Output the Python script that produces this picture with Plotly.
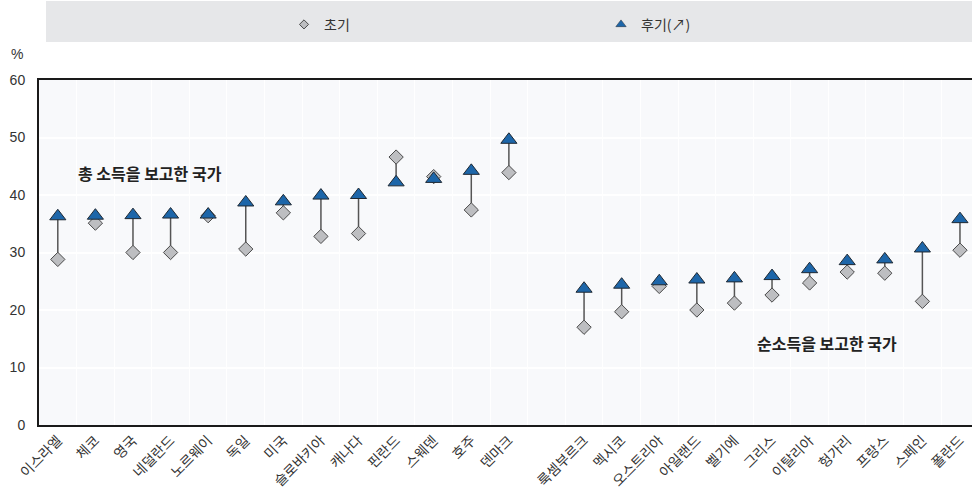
import plotly.graph_objects as go

# Countries reporting gross income
gross_countries = ["이스라엘", "체코", "영국", "네덜란드", "노르웨이", "독일", "미국",
                   "슬로바키아", "캐나다", "핀란드", "스웨덴", "호주", "덴마크"]
gross_early = [28.8, 35.1, 30.0, 30.0, 36.4, 30.6, 36.9, 32.8, 33.3, 46.6, 43.2, 37.4, 43.9]
gross_late = [36.3, 36.4, 36.5, 36.6, 36.6, 38.7, 38.9, 39.9, 40.0, 42.2, 42.8, 44.2, 49.6]

# Countries reporting net income
net_countries = ["룩셈부르크", "멕시코", "오스트리아", "아일랜드", "벨기에", "그리스",
                 "이탈리아", "헝가리", "프랑스", "스페인", "폴란드"]
net_early = [17.0, 19.7, 24.1, 20.0, 21.2, 22.6, 24.7, 26.6, 26.4, 21.5, 30.4]
net_late = [23.7, 24.4, 25.0, 25.3, 25.5, 25.9, 27.1, 28.5, 28.8, 30.7, 35.8]

y_ticks = [0, 10, 20, 30, 40, 50, 60]

# one empty slot separates the two country groups
gap = 1
x_gross = list(range(len(gross_countries)))
x_net = [len(gross_countries) + gap + i for i in range(len(net_countries))]
xs = x_gross + x_net
labels = gross_countries + net_countries
early = gross_early + net_early
late = gross_late + net_late
n_slots = len(gross_countries) + gap + len(net_countries)

DIAMOND_FILL = "#bdbec1"
DIAMOND_EDGE = "#4a4a4a"
TRI_FILL = "#1d66a9"
TRI_EDGE = "#1f2933"

# vertical connectors from early to late value
lx, ly = [], []
for x, a, b in zip(xs, early, late):
    lx += [x, x, None]
    ly += [a, b, None]

fig = go.Figure()
fig.add_trace(go.Scatter(x=lx, y=ly, mode="lines", showlegend=False, hoverinfo="skip",
                         line=dict(color="#555555", width=1.5)))
fig.add_trace(go.Scatter(x=xs, y=early, mode="markers", name="초기", showlegend=False,
                         marker=dict(symbol="diamond", size=11, color=DIAMOND_FILL,
                                     line=dict(color=DIAMOND_EDGE, width=1))))
fig.add_trace(go.Scatter(x=xs, y=late, mode="markers", name="후기(↗)", showlegend=False,
                         marker=dict(symbol="triangle-up", size=14, color=TRI_FILL,
                                     line=dict(color=TRI_EDGE, width=1))))

# legend entries
fig.add_trace(go.Scatter(x=[None], y=[None], mode="markers", name="초기", legend="legend",
                         marker=dict(symbol="diamond", size=7, color=DIAMOND_FILL,
                                     line=dict(color=DIAMOND_EDGE, width=1))))
fig.add_trace(go.Scatter(x=[None], y=[None], mode="markers", name="후기(↗)", legend="legend2",
                         marker=dict(symbol="triangle-up", size=9, color=TRI_FILL,
                                     line=dict(color=TRI_EDGE, width=0.5))))

legend_common = dict(orientation="h", bgcolor="rgba(0,0,0,0)", yanchor="middle", y=1.16,
                     xanchor="left", font=dict(size=14, color="#333333"),
                     itemwidth=30, tracegroupgap=0)

fig.update_layout(
    width=972, height=491,
    margin=dict(l=39, r=0, t=80, b=66),
    paper_bgcolor="white",
    plot_bgcolor="#f8f9fb",
    font=dict(family="Noto Sans CJK KR, Liberation Sans, sans-serif", color="#333333"),
    legend=dict(x=(284 - 39) / 933, **legend_common),
    legend2=dict(x=(601 - 39) / 933, **legend_common),
    xaxis=dict(
        range=[-0.5, 24.32],
        tickmode="array", tickvals=xs, ticktext=labels, tickangle=-45,
        tickfont=dict(size=14, color="#333333"),
        showgrid=False, zeroline=False,
        showline=True, linecolor="#1a1a1a", linewidth=2, mirror=True,
        ticks="",
        minor=dict(tickmode="array", tickvals=[i - 0.5 for i in range(n_slots + 1)],
                   showgrid=True, gridcolor="white", gridwidth=1, ticks=""),
    ),
    yaxis=dict(
        range=[0, 60], tickmode="array", tickvals=y_ticks,
        tickfont=dict(family="Liberation Sans, Arial, sans-serif", size=14, color="#333333"),
        showgrid=True, gridcolor="white", gridwidth=1.5,
        zeroline=False, showline=True, linecolor="#1a1a1a", linewidth=2,
        ticks="", ticklabelstandoff=9,
    ),
    shapes=[dict(type="rect", xref="paper", yref="paper",
                 x0=(46 - 39) / 933, x1=1.0, y0=1 + (80 - 42) / 345, y1=1 + (80 - 1) / 345,
                 fillcolor="#e6e7e9", line=dict(width=0), layer="below")],
    annotations=[
        dict(text="%", xref="paper", yref="paper", x=0, y=1, xanchor="left", yanchor="middle",
             xshift=-30, yshift=26, showarrow=False,
             font=dict(family="Liberation Sans, Arial, sans-serif", size=14, color="#333333")),
        dict(text="총 소득을 보고한 국가", x=2.45, y=43.8, xref="x", yref="y", showarrow=False,
             font=dict(size=16, color="#222222", weight=600)),
        dict(text="순소득을 보고한 국가", x=20.47, y=14.3, xref="x", yref="y", showarrow=False,
             font=dict(size=16, color="#222222", weight=600)),
    ],
)

fig.write_html("out.html")
